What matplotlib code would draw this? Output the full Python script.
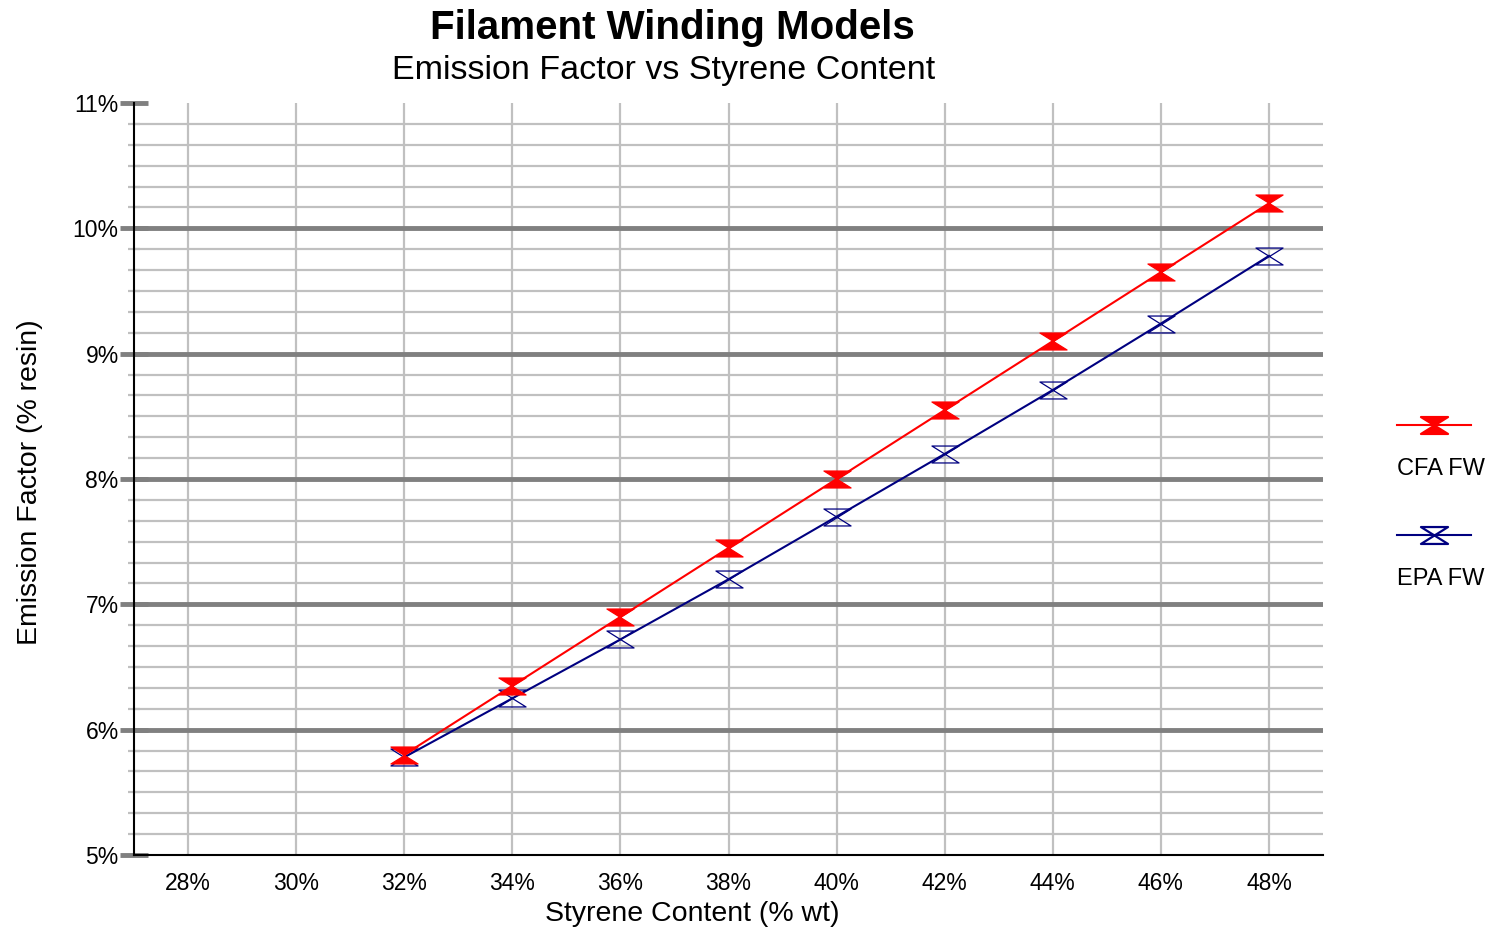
import matplotlib
matplotlib.use('Agg')
import matplotlib.pyplot as plt
import numpy as np
from matplotlib.path import Path
from matplotlib.lines import Line2D
from matplotlib.ticker import MultipleLocator, FuncFormatter

plt.rcParams['font.family'] = ['Liberation Sans', 'DejaVu Sans']

# data (% styrene vs % emission factor)
styrene = [32, 34, 36, 38, 40, 42, 44, 46, 48]
cfa_fw = [5.80, 6.35, 6.90, 7.45, 8.00, 8.55, 9.10, 9.65, 10.20]
epa_fw = [5.78, 6.25, 6.72, 7.20, 7.70, 8.20, 8.71, 9.24, 9.78]
x_ticks = [28, 30, 32, 34, 36, 38, 40, 42, 44, 46, 48]
y_ticks = [5, 6, 7, 8, 9, 10, 11]

# hourglass marker
hourglass = Path([(-1.6, 1), (1.6, 1), (-1.6, -1), (1.6, -1), (-1.6, 1)],
                 [Path.MOVETO, Path.LINETO, Path.LINETO, Path.LINETO, Path.CLOSEPOLY])

W, H = 1497, 933
fig = plt.figure(figsize=(W / 100, H / 100), dpi=100)
ax = fig.add_axes([134 / W, 1 - 855 / H, (1323 - 134) / W, (855 - 103) / H])

ax.plot(styrene, epa_fw, color='#000080', lw=1.5, marker=hourglass, ms=19.5,
        mfc='none', mec='#000080', mew=0.9, zorder=3)
ax.plot(styrene, cfa_fw, color='red', lw=1.5, marker=hourglass, ms=19.5,
        mfc='red', mec='red', mew=0.9, zorder=4)

ax.set_xlim(27, 49)
ax.set_ylim(5, 11)
ax.set_xticks(x_ticks)
ax.set_yticks(y_ticks)
ax.yaxis.set_minor_locator(MultipleLocator(1 / 6))
pct = FuncFormatter(lambda v, p: '%d%%' % round(v))
ax.xaxis.set_major_formatter(pct)
ax.yaxis.set_major_formatter(pct)

ax.set_axisbelow(True)
ax.grid(which='major', axis='x', color='#c0c0c0', lw=1.6)
ax.grid(which='minor', axis='y', color='#c0c0c0', lw=1.6)
# heavy gridlines on the inner whole percents
for v in y_ticks[1:-1]:
    ax.axhline(v, color='#808080', lw=3.5, zorder=1.5)

ax.tick_params(axis='y', which='major', direction='inout', length=20, width=3.5,
               color='#808080', labelsize=16.5, pad=1)
ax.tick_params(axis='y', which='minor', direction='inout', length=9, width=1.6,
               color='#c0c0c0')
ax.tick_params(axis='x', which='major', length=0, labelsize=16.5, pad=12)

for s in ['top', 'right']:
    ax.spines[s].set_visible(False)
for s in ['left', 'bottom']:
    ax.spines[s].set_linewidth(1.5)
    ax.spines[s].set_zorder(2.5)

fig.text(692 / W, 1 - 914 / H, 'Styrene Content (% wt)', ha='center', va='center',
         fontsize=20.5)
fig.text(30 / W, 1 - 482 / H, 'Emission Factor (% resin)', ha='center', va='center',
         rotation=90, fontsize=20.5)

fig.text(672 / W, 1 - 28 / H, 'Filament Winding Models', ha='center', va='center',
         fontsize=29, fontweight='bold')
fig.text(664 / W, 1 - 70 / H, 'Emission Factor vs Styrene Content', ha='center',
         va='center', fontsize=24.5)

# legend drawn at right side, label under each sample
for yl, col, fc, lab in [(425, 'red', 'red', 'CFA FW'), (535, '#000080', 'none', 'EPA FW')]:
    yf = 1 - yl / H
    fig.add_artist(Line2D([1397 / W, 1471 / W], [yf, yf], color=col, lw=1.5))
    fig.add_artist(Line2D([1434 / W], [yf], marker=hourglass, ms=19.5, color=col,
                          mfc=fc, mec=col, mew=1.6))
    fig.text(1397 / W, 1 - (yl + 44) / H, lab, ha='left', va='center', fontsize=17)

fig.savefig('out.png', dpi=100)
